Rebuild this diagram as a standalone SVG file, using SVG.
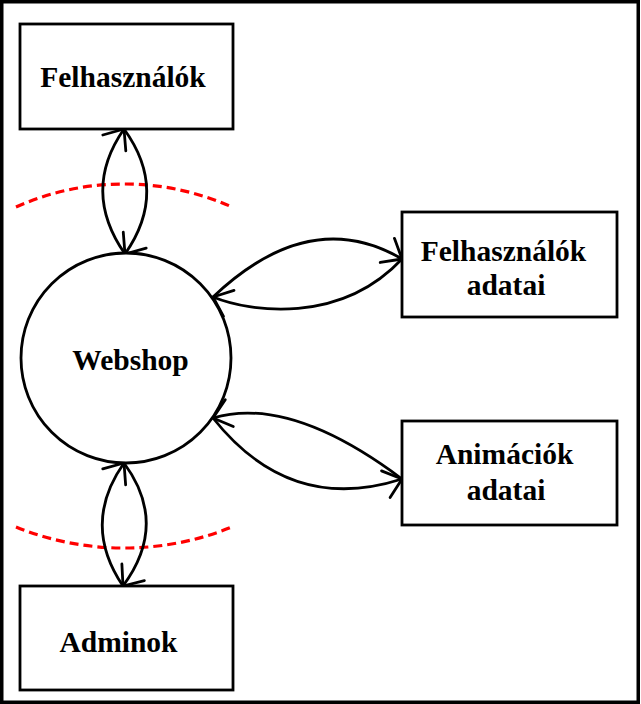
<svg xmlns="http://www.w3.org/2000/svg" width="641" height="704" viewBox="0 0 641 704">
<style>
.box{fill:#fff;stroke:#000;stroke-width:2.8}
.lbl{font-family:"Liberation Serif","Times New Roman",serif;font-weight:bold;font-size:29.5px;fill:#000;text-anchor:middle}
.con{fill:none;stroke:#000;stroke-width:2.8;marker-end:url(#ah)}
.bound{fill:none;stroke:#ff0000;stroke-width:3.2;stroke-dasharray:9 5}
</style>
<defs>
<marker id="ah" viewBox="0 0 22 32" markerUnits="userSpaceOnUse" markerWidth="22" markerHeight="32" refX="19" refY="16" orient="auto">
<path d="M2,2 L19,16 L2,30" fill="none" stroke="#000" stroke-width="2.8" stroke-linecap="round" stroke-linejoin="round"/>
</marker>
</defs>
<rect x="0" y="0" width="641" height="704" fill="#fff"/>
<rect x="1.75" y="1.75" width="636.5" height="700.5" fill="none" stroke="#000" stroke-width="3.5"/>
<g id="boundaries">
<path class="bound" d="M16,207 A265,265 0 0 1 232,207"/>
<path class="bound" d="M16,527 A288,288 0 0 0 232,527"/>
</g>
<g id="connectors">
<path class="con" d="M125,254 Q81,191 124,129"/>
<path class="con" d="M124,129 Q169,191 125,254"/>
<path class="con" d="M213,297 Q310,205 402,259"/>
<path class="con" d="M402,259 C340,325 250,312 213,297"/>
<path class="con" d="M402,479 Q290,395 213,418"/>
<path class="con" d="M213,418 Q290,515 402,479"/>
<path class="con" d="M123,586 Q81,524 124,463"/>
<path class="con" d="M124,463 Q169,524 123,586"/>
</g>
<g id="felhasznalok">
<rect class="box" x="20" y="24" width="213" height="105"/>
<text class="lbl" x="123" y="87">Felhasználók</text>
</g>
<g id="webshop">
<circle cx="126" cy="358" r="105" fill="#fff" stroke="#000" stroke-width="2.8"/>
<text class="lbl" x="130.5" y="370">Webshop</text>
</g>
<g id="felhasznalok-adatai">
<rect class="box" x="402" y="212" width="215" height="105"/>
<text class="lbl" x="503.5" y="261">Felhasználók</text>
<text class="lbl" x="506" y="295">adatai</text>
</g>
<g id="animaciok-adatai">
<rect class="box" x="402" y="421" width="215" height="104"/>
<text class="lbl" x="504.5" y="464">Animációk</text>
<text class="lbl" x="506" y="500">adatai</text>
</g>
<g id="adminok">
<rect class="box" x="20" y="586" width="213" height="104"/>
<text class="lbl" x="118.5" y="652">Adminok</text>
</g>
</svg>
